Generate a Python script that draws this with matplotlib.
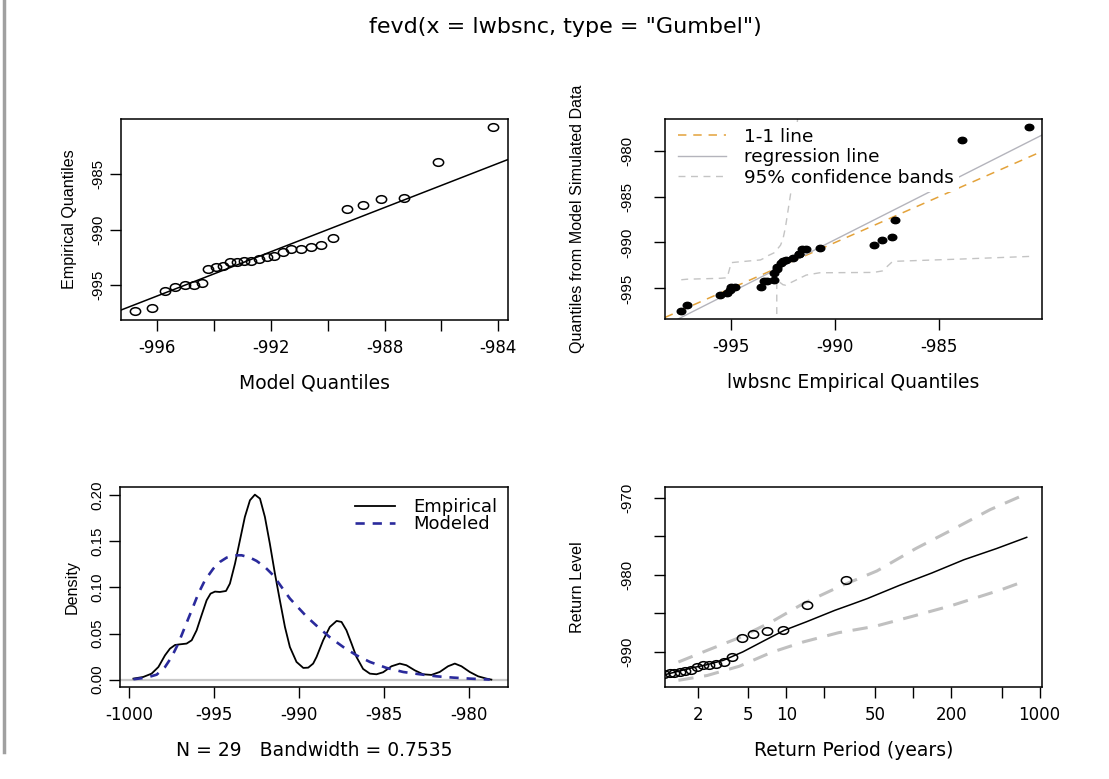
import matplotlib.pyplot as plt
import numpy as np
from matplotlib.lines import Line2D
from matplotlib.path import Path
from matplotlib.transforms import Affine2D

# sorted lwbsnc sample = empirical quantiles (N = 29)
emp_q = [-997.38, -997.11, -995.51, -995.18, -995.03, -995.00, -994.79, -993.58, -993.40, -993.28,
         -992.95, -992.92, -992.80, -992.80, -992.62, -992.50, -992.38, -992.02, -991.75, -991.75,
         -991.57, -991.39, -990.75, -988.16, -987.74, -987.26, -987.14, -983.92, -980.69]
# Gumbel model quantiles (top left x)
model_q = [-996.78, -996.16, -995.70, -995.35, -995.02, -994.71, -994.41, -994.22, -993.92, -993.68,
           -993.43, -993.19, -992.94, -992.68, -992.41, -992.14, -991.88, -991.58, -991.27, -990.95,
           -990.60, -990.22, -989.80, -989.33, -988.77, -988.11, -987.30, -986.12, -984.19]
# quantiles from model simulated data (top right y) and 95% bands
sim_q = [-997.46, -996.81, -995.72, -995.51, -995.22, -994.90, -994.88, -994.86, -994.22, -994.20,
         -994.04, -993.30, -992.90, -992.64, -992.20, -991.99, -991.88, -991.70, -991.30, -991.27,
         -990.76, -990.76, -990.58, -990.25, -989.75, -989.35, -987.50, -978.88, -977.39]
ci_up = [-994.06, -994.00, -993.90, -993.84, -992.60, -992.20, -992.15, -991.90, -991.70, -991.50,
         -991.15, -991.10, -990.80, -990.80, -990.30, -989.60, -988.30, -983.00, -975.00, -972.00,
         -968.00, -966.00, -964.00, -962.00, -961.00, -960.00, -959.00, -955.00, -950.00]
ci_low = [-1001.0, -1001.0, -1001.0, -1001.0, -1001.0, -1001.0, -1001.0, -1001.0, -1001.0, -1001.0,
          -1001.0, -1001.0, -1001.0, -994.10, -994.40, -994.60, -994.65, -994.25, -993.95, -993.90,
          -993.75, -993.55, -993.30, -993.26, -993.10, -992.10, -992.05, -991.80, -991.52]

# density panel
dens_x = [-999.76, -999.18, -998.69, -998.29, -997.90, -997.61, -997.31, -997.02, -996.63, -996.33,
          -996.04, -995.75, -995.45, -995.22, -994.96, -994.67, -994.31, -994.08, -993.78, -993.49,
          -993.20, -992.90, -992.61, -992.31, -992.02, -991.73, -991.43, -991.14, -990.84, -990.55,
          -990.16, -989.76, -989.47, -989.18, -988.98, -988.59, -988.20, -987.80, -987.51, -987.22,
          -986.92, -986.63, -986.24, -985.84, -985.45, -985.06, -984.57, -984.08, -983.69, -983.20,
          -982.71, -982.22, -981.73, -981.24, -980.84, -980.45, -979.96, -979.47, -978.98, -978.69]
dens_y = [0.0011, 0.0029, 0.0065, 0.0137, 0.0264, 0.0336, 0.0376, 0.0383, 0.0391, 0.0427,
          0.0535, 0.0698, 0.0861, 0.0933, 0.0955, 0.0951, 0.0962, 0.1042, 0.1259, 0.1512,
          0.1765, 0.1946, 0.2007, 0.1964, 0.1765, 0.1476, 0.1150, 0.0861, 0.0571, 0.0354,
          0.0192, 0.0127, 0.0130, 0.0174, 0.0246, 0.0427, 0.0571, 0.0637, 0.0626, 0.0535,
          0.0391, 0.0246, 0.0116, 0.0065, 0.0058, 0.0080, 0.0145, 0.0174, 0.0156, 0.0101,
          0.0058, 0.0051, 0.0083, 0.0145, 0.0174, 0.0145, 0.0083, 0.0036, 0.0011, 0.0000]
mod_x = [-999.76, -998.98, -998.39, -997.90, -997.51, -997.12, -996.73, -996.33, -995.94, -995.55,
         -995.06, -994.67, -994.27, -993.78, -993.39, -992.90, -992.51, -992.02, -991.53, -991.04,
         -990.55, -990.06, -989.57, -988.98, -988.20, -987.41, -986.63, -985.84, -984.86, -983.88,
         -982.90, -981.92, -980.94, -979.96, -978.78]
mod_y = [0.0004, 0.0022, 0.0054, 0.0137, 0.0246, 0.0391, 0.0571, 0.0752, 0.0933, 0.1078,
         0.1204, 0.1277, 0.1324, 0.1349, 0.1349, 0.1324, 0.1288, 0.1222, 0.1132, 0.1005,
         0.0880, 0.0782, 0.0685, 0.0585, 0.0460, 0.0354, 0.0264, 0.0192, 0.0127, 0.0083,
         0.0058, 0.0036, 0.0022, 0.0011, 0.0000]

# return level panel
rp_pts = [29.5, 14.5, 9.49, 6.99, 5.48, 4.48, 3.76, 3.22, 2.80, 2.47, 2.19, 1.96, 1.76, 1.59, 1.44,
          1.31, 1.20, 1.09]
rl_x = [1.10, 1.78, 2.38, 3.19, 4.53, 6.79, 9.65, 14.5, 24.2, 32.8, 43.5, 78.3, 141, 253, 455, 790]
rl_y = [-993.00, -992.13, -991.69, -991.13, -990.04, -988.52, -987.22, -986.10, -984.62, -983.84,
        -983.10, -981.37, -979.76, -978.03, -976.59, -975.12]
up_x = [1.41, 2.38, 4.26, 7.62, 13.6, 25.9, 51.9, 105, 212, 406, 790]
up_y = [-991.35, -989.83, -988.18, -986.14, -983.75, -981.58, -979.50, -976.59, -973.99, -971.52, -969.44]
lo_x = [1.41, 2.38, 4.26, 7.62, 13.6, 25.9, 50.3, 99.1, 201, 499, 790]
lo_y = [-993.73, -993.10, -991.90, -990.10, -988.74, -987.53, -986.70, -985.40, -984.01, -981.93, -980.72]

plt.rcParams['font.family'] = 'DejaVu Sans'
VFONT = 'Liberation Sans'   # vertical texts (R / Arial look)

# slightly wide circle like the stretched R output
oval = Path.unit_circle().transformed(Affine2D().scale(1.35, 1.0))

W, H = 1109, 779
fig = plt.figure(figsize=(W / 100, H / 100), dpi=100)


def box(l, t, r, b):
    return [l / W, 1 - b / H, (r - l) / W, (b - t) / H]


ax1 = fig.add_axes(box(121, 119, 508, 320))
ax2 = fig.add_axes(box(665, 119, 1042, 319))
ax3 = fig.add_axes(box(120, 487, 508, 687))
ax4 = fig.add_axes(box(665, 487, 1042, 687))


def style(ax, xt, xl, yt, yl, xlabel, ylabel, ylab_x, ypad):
    ax.set_xticks(xt)
    ax.set_xticklabels(xl, fontsize=12)
    ax.set_yticks(yt)
    ax.set_yticklabels(yl, rotation=90, va='center', family=VFONT, fontsize=10.8)
    ax.tick_params(axis='x', direction='out', length=8, width=1.0, pad=6)
    ax.tick_params(axis='y', direction='out', length=8, width=1.0, pad=ypad)
    ax.minorticks_off()
    for s in ax.spines.values():
        s.set_linewidth(1.1)
    ax.set_xlabel(xlabel, fontsize=13.5, va='center')
    ax.xaxis.set_label_coords(0.5, -0.315)
    ax.set_ylabel(ylabel, family=VFONT, fontsize=11.6, va='center')
    ax.yaxis.set_label_coords(ylab_x, 0.5)


# top left: qq plot against model quantiles
ax1.plot(model_q, emp_q, ls='none', marker=oval, mfc='none', mec='black', ms=7.4, mew=1.1)
ax1.axline((-990, -990), slope=1, color='black', lw=1.1)
ax1.set_xlim(-997.26, -983.66)
ax1.set_ylim(-998.16, -980.0)
style(ax1, [-996, -994, -992, -990, -988, -986, -984], ['-996', '', '-992', '', '-988', '', '-984'],
      [-995, -990, -985], ['-995', '-990', '-985'], 'Model Quantiles', 'Empirical Quantiles',
      -0.132, 3)

# top right: qq plot of simulated data
slope, icpt = np.polyfit(emp_q, sim_q, 1)
ax2.plot(emp_q, ci_up, color='#c4c4c4', lw=1, dashes=(5, 4))
ax2.plot(emp_q, ci_low, color='#c4c4c4', lw=1, dashes=(5, 4))
ax2.axline((-990, -990), slope=1, color='#e3a23a', lw=1.1, dashes=(5.5, 4.5))
ax2.axline((-990, icpt + slope * -990), slope=slope, color='#b4b4bc', lw=1)
ax2.plot(emp_q, sim_q, ls='none', marker=oval, color='black', ms=6.2, zorder=6)
ax2.set_xlim(-998.16, -980.08)
ax2.set_ylim(-998.33, -976.56)
style(ax2, [-995, -990, -985], ['-995', '-990', '-985'], [-995, -990, -985, -980],
      ['-995', '-990', '-985', '-980'], 'lwbsnc Empirical Quantiles',
      'Quantiles from Model Simulated Data', -0.231, 14)
h2 = [Line2D([], [], color='#e3a23a', lw=1.1, dashes=(5.5, 4.5)),
      Line2D([], [], color='#b4b4bc', lw=1),
      Line2D([], [], color='#c4c4c4', lw=1, dashes=(5, 4))]
ax2.legend(h2, ['1-1 line', 'regression line', '95% confidence bands'], loc='upper left',
           bbox_to_anchor=(0.02, 0.985), borderaxespad=0, borderpad=0.3, fontsize=13.3,
           handlelength=2.6, handletextpad=0.95, labelspacing=0.14, frameon=True,
           fancybox=False, facecolor='white', edgecolor='none', framealpha=1)

# bottom left: density
ax3.axhline(0, color='#c8c8c8', lw=1.6)
ax3.plot(dens_x, dens_y, color='black', lw=1.3, label='Empirical')
ax3.plot(mod_x, mod_y, color='#2a2a9c', lw=1.9, dashes=(3.5, 3), label='Modeled')
ax3.set_xlim(-1000.55, -977.71)
ax3.set_ylim(-0.008, 0.209)
style(ax3, [-1000, -995, -990, -985, -980], ['-1000', '-995', '-990', '-985', '-980'],
      [0, 0.05, 0.10, 0.15, 0.20], ['0.00', '0.05', '0.10', '0.15', '0.20'],
      'N = 29   Bandwidth = 0.7535', 'Density', -0.124, 3)
ax3.legend(loc='upper right', bbox_to_anchor=(1.0, 1.0), borderaxespad=0, borderpad=0.6,
           fontsize=13, handlelength=2.2, handletextpad=1.0, labelspacing=-0.03, frameon=False)

# bottom right: return levels
ax4.plot(up_x, up_y, color='#c0c0c0', lw=2.2, dashes=(5, 3.5))
ax4.plot(lo_x, lo_y, color='#c0c0c0', lw=2.2, dashes=(5, 3.5))
ax4.plot(rl_x, rl_y, color='black', lw=1.1)
ax4.plot(rp_pts, sorted(emp_q, reverse=True)[:len(rp_pts)], ls='none', marker=oval,
         mfc='none', mec='black', ms=7.4, mew=1.1)
ax4.set_xscale('log')
ax4.set_xlim(1.105, 1043)
ax4.set_ylim(-994.6, -968.57)
style(ax4, [2, 5, 10, 20, 50, 100, 200, 500, 1000],
      ['2', '5', '10', '', '50', '', '200', '', '1000'],
      [-990, -985, -980, -975, -970], ['-990', '', '-980', '', '-970'],
      'Return Period (years)', 'Return Level', -0.231, 14)
ax4.minorticks_off()

fig.text(565 / W, 1 - 27 / H, 'fevd(x = lwbsnc, type = "Gumbel")', ha='center', va='center',
         fontsize=16)
fig.add_artist(Line2D([0.004, 0.004], [0.035, 1.0], transform=fig.transFigure,
                      color='#a0a0a0', lw=2.5))

fig.savefig('out.png', dpi=100)
